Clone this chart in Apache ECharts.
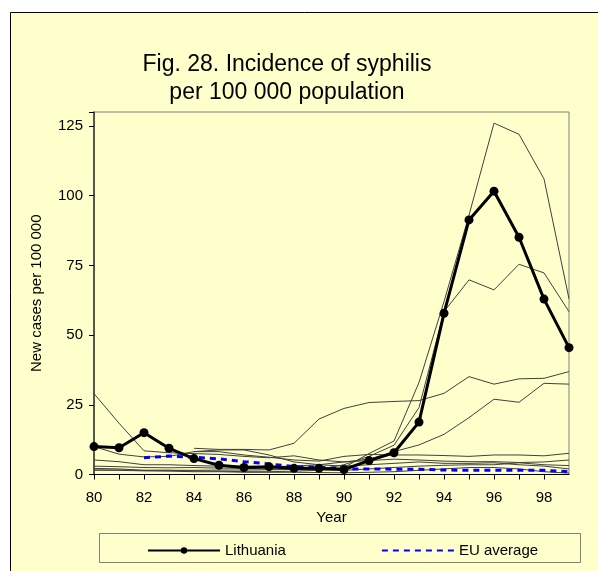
<!DOCTYPE html>
<html>
<head>
<meta charset="utf-8">
<script src="https://cdn.jsdelivr.net/npm/echarts@6/dist/echarts.min.js"></script>
<style>
  html, body { margin: 0; padding: 0; background: #fff; }
  #chart { width: 598px; height: 571px; }
</style>
</head>
<body>
<div id="chart"></div>
<script>
// years 1980..1999
var years = [80,81,82,83,84,85,86,87,88,89,90,91,92,93,94,95,96,97,98,99];

var lithuania = [10, 9.6, 15, 9.4, 5.7, 3.3, 2.5, 2.8, 2.2, 2.2, 1.8, 5, 7.8, 18.8, 57.8, 91.3, 101.6, 85.1, 62.9, 45.5];
var euAverage = [null, null, 6.0, 6.6, 6.2, 5.6, 4.6, 3.8, 2.8, 2.6, 2.0, 2.0, 1.9, 1.9, 1.6, 1.5, 1.5, 1.5, 1.5, 1.0];

// other countries (thin lines, not in legend)
var others = [
  [2.2, 2.0, 1.5, 1.5, 1.3, 1.2, 1.0, 1.0, 1.2, 1.5, 2.5, 7.5, 12, 33, 62, 93, 126, 122, 106, 63],
  [1.6, 1.6, 1.5, 1.5, 1.5, 1.6, 1.6, 1.7, 1.8, 1.8, 3.5, 6.5, 10.5, 24, 58.4, 69.8, 66.2, 75.4, 72.3, 58.4],
  [null, null, null, null, 9.4, 9.0, 9.0, 8.8, 11.2, 19.9, 23.7, 25.8, 26.2, 26.5, 29.1, 35.1, 32.4, 34.3, 34.5, 36.9],
  [5.2, 4.6, 3.5, 3.5, 3.2, 3.0, 3.0, 2.8, 3.0, 3.5, 4.5, 5.5, 8.2, 10.6, 14.4, 20.4, 27, 25.9, 32.7, 32.4],
  [29, 18.4, 8.5, 7.8, 7.5, 7.2, 6.5, 6.0, 6.7, 5.2, 4.5, 5, 5.5, 5.2, 4.8, 4.6, 4.6, 4.3, 4.5, 5.2],
  [10, 7.3, 6.3, 6.5, 8.2, 8.2, 7.0, 6.2, 5.2, 4.8, 6.5, 7.2, 7.0, 7.0, 6.8, 6.5, 7.0, 7.0, 6.7, 7.6],
  [3.0, 2.8, 2.5, 2.4, 2.5, 2.3, 2.2, 2.0, 1.8, 1.6, 1.5, 2.0, 2.5, 3.0, 3.3, 3.5, 3.5, 4.2, 3.5, 3.2],
  [null, null, null, null, 8.2, 8.8, 8.8, 7.0, 4.5, 3.5, 3.0, 3.5, 4.0, 4.5, 4.0, 4.0, 4.2, 3.5, 3.0, 2.0],
  [1.6, 1.5, 1.3, 1.2, 1.0, 1.0, 0.8, 0.8, 0.8, 0.7, 0.6, 0.8, 1.0, 1.5, 2.0, 2.5, 2.5, 2.0, 1.0, 0.5]
];

var yTicks = [0, 25, 50, 75, 100, 125];
var yMax = 130;

function pairs(vals) {
  var res = [];
  for (var i = 0; i < years.length; i++) {
    res.push([years[i], vals[i]]);
  }
  return res;
}

var chart = echarts.init(document.getElementById('chart'));
var font = 'Liberation Sans, Arial, sans-serif';

var series = [];
others.forEach(function (vals, i) {
  series.push({
    name: 'other' + i,
    type: 'line',
    data: pairs(vals),
    symbol: 'none',
    silent: true,
    z: 2,
    lineStyle: { color: '#404040', width: 1 }
  });
});
series.push({
  name: 'EU average',
  type: 'line',
  data: pairs(euAverage),
  symbol: 'none',
  z: 3,
  lineStyle: { color: '#0000ff', width: 3, type: [6, 5] },
  itemStyle: { color: '#0000ff' }
});
series.push({
  name: 'Lithuania',
  type: 'line',
  data: pairs(lithuania),
  symbol: 'circle',
  symbolSize: 9,
  z: 4,
  lineStyle: { color: '#000', width: 3 },
  itemStyle: { color: '#000' }
});

var option = {
  backgroundColor: '#fff',
  animation: false,
  textStyle: { fontFamily: font },
  graphic: [
    { type: 'rect', z: -10, shape: { x: 10.5, y: 12.5, width: 600, height: 600 },
      style: { fill: '#ffffcc', stroke: '#000', lineWidth: 1 } },
    { type: 'rect', z: 10, shape: { x: 99.5, y: 533.5, width: 481, height: 29 },
      style: { fill: 'none', stroke: '#808080', lineWidth: 1 } }
  ],
  title: {
    text: 'Fig. 28. Incidence of syphilis\nper 100 000 population',
    left: 282,
    textAlign: 'center',
    top: 46,
    textStyle: { fontFamily: font, fontSize: 23, fontWeight: 'normal', color: '#000', lineHeight: 28 }
  },
  legend: {
    data: [
      { name: 'Lithuania' },
      { name: 'EU average', itemStyle: { opacity: 0 } }
    ],
    left: 142,
    top: 538,
    itemWidth: 72,
    itemHeight: 8,
    itemGap: 95,
    textStyle: { fontFamily: font, fontSize: 15, color: '#000' }
  },
  grid: {
    left: 94, top: 112, right: 29, bottom: 96.5,
    show: true,
    backgroundColor: '#ffffcc',
    borderColor: '#808080',
    borderWidth: 1
  },
  xAxis: {
    type: 'value',
    min: 80, max: 99, interval: 1,
    name: 'Year',
    nameLocation: 'middle',
    nameGap: 34,
    nameTextStyle: { fontFamily: font, fontSize: 15, color: '#000' },
    axisLine: { lineStyle: { color: '#000', width: 1 } },
    axisTick: { show: true, length: 5, lineStyle: { color: '#000' } },
    axisLabel: {
      margin: 16,
      fontSize: 15, color: '#000', fontFamily: font,
      showMaxLabel: false,
      formatter: function (v) { return v % 2 === 0 ? String(v) : ''; }
    },
    splitLine: { show: false }
  },
  yAxis: {
    type: 'value',
    min: yTicks[0], max: yMax, interval: 25,
    name: 'New cases per 100 000',
    nameLocation: 'middle',
    nameGap: 50,
    nameTextStyle: { fontFamily: font, fontSize: 15, color: '#000' },
    axisLine: { show: true, lineStyle: { color: '#333', width: 1.5 } },
    axisTick: { show: true, length: 5, lineStyle: { color: '#000' } },
    axisLabel: {
      margin: 11, fontSize: 15, color: '#000', fontFamily: font,
      formatter: function (v) { return yTicks.indexOf(v) >= 0 ? String(v) : ''; }
    },
    splitLine: { show: false }
  },
  series: series
};

chart.setOption(option);
window.addEventListener('resize', function () { chart.resize(); });
</script>
</body>
</html>
